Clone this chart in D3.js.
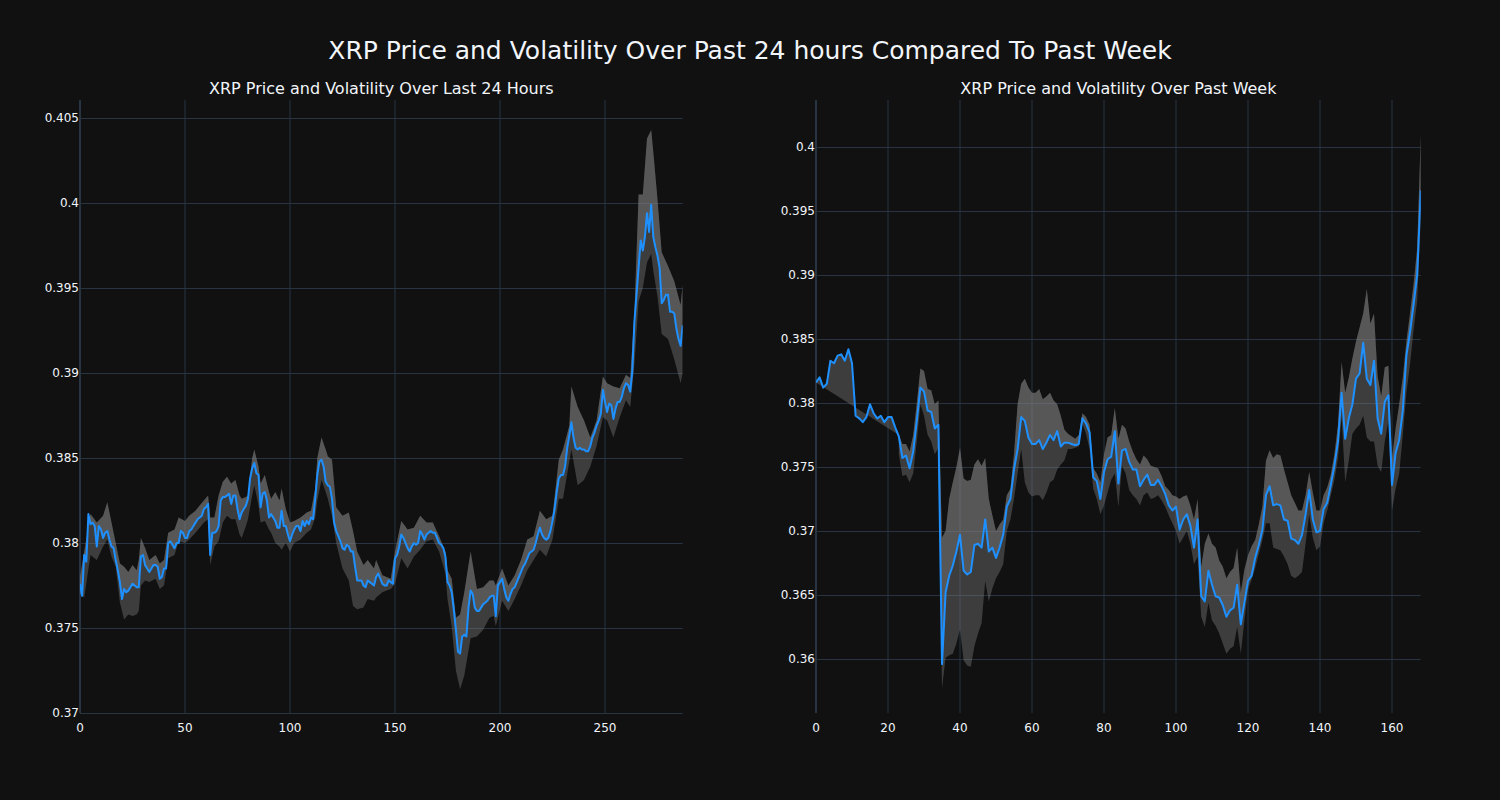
<!DOCTYPE html>
<html>
<head>
<meta charset="utf-8">
<script src="https://cdn.jsdelivr.net/npm/d3@7/dist/d3.min.js"></script>
<style>
  html, body { margin: 0; padding: 0; background: #111111; }
  svg { display: block; }
  text { font-family: "DejaVu Sans", "Open Sans", sans-serif; fill: #f2f5fa; }
</style>
</head>
<body>
<svg id="chart" width="1500" height="800"></svg>
<script>
// ---------- DATA ----------
const mainTitle = "XRP Price and Volatility Over Past 24 hours Compared To Past Week";
const dayTitle = "XRP Price and Volatility Over Last 24 Hours";
const weekTitle = "XRP Price and Volatility Over Past Week";

// 24h price (5-minute steps, index 0..287)
const dayPrice = [
0.3776,0.3769,0.3793,0.3789,0.3817,0.3811,0.3812,0.3810,0.3798,0.3810,
0.3808,0.3803,0.3806,0.3807,0.3802,0.3798,0.3797,0.3790,0.3784,0.3777,
0.3767,0.3773,0.3771,0.3772,0.3774,0.3776,0.3775,0.3774,0.3774,0.3792,
0.3793,0.3787,0.3785,0.3783,0.3785,0.3787,0.3787,0.3786,0.3779,0.3780,
0.3785,0.3785,0.3800,0.3801,0.3799,0.3797,0.3800,0.3800,0.3807,0.3806,
0.3803,0.3803,0.3807,0.3808,0.3810,0.3812,0.3814,0.3815,0.3816,0.3820,
0.3821,0.3823,0.3793,0.3806,0.3806,0.3807,0.3810,0.3825,0.3827,0.3827,
0.3828,0.3829,0.3823,0.3828,0.3828,0.3820,0.3814,0.3818,0.3820,0.3822,
0.3826,0.3838,0.3844,0.3847,0.3841,0.3840,0.3821,0.3829,0.3830,0.3825,
0.3815,0.3817,0.3815,0.3813,0.3809,0.3809,0.3819,0.3810,0.3810,0.3805,
0.3801,0.3805,0.3808,0.3810,0.3810,0.3807,0.3813,0.3810,0.3813,0.3811,
0.3815,0.3814,0.3826,0.3840,0.3848,0.3849,0.3845,0.3836,0.3834,0.3833,
0.3826,0.3812,0.3807,0.3804,0.3801,0.3797,0.3796,0.3799,0.3798,0.3795,
0.3795,0.3786,0.3778,0.3778,0.3778,0.3775,0.3774,0.3778,0.3777,0.3776,
0.3775,0.3780,0.3782,0.3779,0.3776,0.3775,0.3775,0.3778,0.3777,0.3776,
0.3791,0.3793,0.3798,0.3805,0.3803,0.3800,0.3797,0.3795,0.3798,0.3800,
0.3799,0.3800,0.3807,0.3805,0.3802,0.3805,0.3806,0.3807,0.3806,0.3806,
0.3803,0.3800,0.3799,0.3797,0.3792,0.3777,0.3775,0.3771,0.3761,0.3749,
0.3736,0.3735,0.3745,0.3746,0.3745,0.3762,0.3772,0.3770,0.3762,0.3760,
0.3760,0.3762,0.3764,0.3765,0.3766,0.3768,0.3769,0.3769,0.3757,0.3775,
0.3777,0.3779,0.3773,0.3768,0.3766,0.3770,0.3773,0.3774,0.3777,0.3780,
0.3783,0.3786,0.3788,0.3791,0.3794,0.3795,0.3796,0.3800,0.3805,0.3809,
0.3805,0.3803,0.3802,0.3803,0.3807,0.3813,0.3820,0.3830,0.3838,0.3840,
0.3840,0.3845,0.3856,0.3863,0.3871,0.3862,0.3856,0.3855,0.3856,0.3855,
0.3855,0.3854,0.3854,0.3857,0.3862,0.3865,0.3869,0.3872,0.3876,0.3890,
0.3883,0.3877,0.3882,0.3881,0.3873,0.3879,0.3883,0.3883,0.3886,0.3891,
0.3894,0.3893,0.3889,0.3901,0.3930,0.3946,0.3962,0.3978,0.3972,0.3980,
0.3994,0.3983,0.3999,0.3980,0.3974,0.3969,0.3962,0.3941,0.3943,0.3946,
0.3946,0.3936,0.3936,0.3935,0.3926,0.3920,0.3916,0.3928
];

// 24h volatility band (sampled positions)
const dayBandX = [0,2,5,8,11,13,15,17,19,21,23,25,27,28,29,31,33,36,38,40,42,45,47,50,52,55,57,59,61,62,64,66,68,70,72,74,76,77,79,80,82,83,85,86,88,90,91,93,95,96,98,100,102,105,108,110,112,113,115,117,118,120,122,125,128,130,132,135,137,140,141,144,146,148,150,153,156,159,162,165,168,171,174,175,177,179,181,183,186,189,192,195,197,198,201,204,207,210,213,216,219,222,225,228,230,233,234,237,240,243,246,249,251,254,257,260,262,264,266,268,270,272,273,275,277,280,283,286,287];
const dayUpper = [0.3780,0.3795,0.3817,0.3812,0.3816,0.3824,0.3812,0.3800,0.3788,0.3786,0.3783,0.3787,0.3784,0.3790,0.3803,0.3797,0.3790,0.3793,0.3788,0.3790,0.3806,0.3808,0.3815,0.3813,0.3816,0.3819,0.3822,0.3825,0.3828,0.3815,0.3815,0.3828,0.3836,0.3839,0.3835,0.3837,0.3828,0.3826,0.3827,0.3828,0.3850,0.3855,0.3845,0.3835,0.3840,0.3830,0.3826,0.3830,0.3825,0.3832,0.3820,0.3812,0.3813,0.3815,0.3818,0.3819,0.3832,0.3850,0.3862,0.3855,0.3851,0.3849,0.3821,0.3816,0.3818,0.3807,0.3795,0.3787,0.3790,0.3785,0.3790,0.3781,0.3780,0.3779,0.3795,0.3813,0.3808,0.3809,0.3816,0.3812,0.3812,0.3804,0.3795,0.3784,0.3779,0.3756,0.3758,0.3771,0.3795,0.3773,0.3774,0.3778,0.3778,0.3775,0.3785,0.3775,0.3781,0.3790,0.3802,0.3804,0.3819,0.3814,0.3816,0.3849,0.3855,0.3869,0.3892,0.3880,0.3872,0.3862,0.3872,0.3898,0.3894,0.3892,0.3891,0.3899,0.3897,0.3935,0.4005,0.4005,0.4038,0.4043,0.4030,0.4002,0.3971,0.3963,0.3954,0.3940,0.3952];
const dayLower = [0.3770,0.3768,0.3793,0.3790,0.3798,0.3802,0.3792,0.3786,0.3765,0.3755,0.3758,0.3757,0.3758,0.3760,0.3775,0.3778,0.3777,0.3779,0.3773,0.3775,0.3791,0.3793,0.3801,0.3800,0.3802,0.3806,0.3809,0.3812,0.3814,0.3787,0.3798,0.3801,0.3812,0.3816,0.3814,0.3814,0.3805,0.3803,0.3810,0.3814,0.3828,0.3834,0.3822,0.3812,0.3813,0.3808,0.3806,0.3800,0.3798,0.3796,0.3800,0.3795,0.3800,0.3802,0.3806,0.3808,0.3815,0.3825,0.3837,0.3830,0.3826,0.3816,0.3800,0.3785,0.3778,0.3763,0.3761,0.3762,0.3767,0.3766,0.3768,0.3771,0.3772,0.3773,0.3776,0.3791,0.3785,0.3792,0.3796,0.3801,0.3802,0.3795,0.3782,0.3767,0.3751,0.3725,0.3714,0.3722,0.3744,0.3745,0.3749,0.3756,0.3757,0.3751,0.3766,0.3760,0.3767,0.3775,0.3784,0.3790,0.3796,0.3792,0.3802,0.3826,0.3826,0.3848,0.3855,0.3834,0.3837,0.3845,0.3857,0.3874,0.3872,0.3862,0.3874,0.3884,0.3880,0.3905,0.3942,0.3950,0.3965,0.3970,0.3960,0.3945,0.3923,0.3920,0.3908,0.3894,0.3900];

// Week price (hourly, index 0..168)
const weekPrice = [
0.3816,0.3820,0.3812,0.3815,0.3833,0.3831,0.3837,0.3838,0.3833,0.3842,
0.3831,0.3790,0.3788,0.3785,0.3789,0.3799,0.3792,0.3788,0.3790,0.3785,
0.3789,0.3789,0.3781,0.3774,0.3757,0.3759,0.3749,0.3762,0.3786,0.3812,
0.3809,0.3794,0.3793,0.3780,0.3783,0.3596,0.3652,0.3665,0.3673,0.3684,
0.3697,0.3669,0.3666,0.3668,0.3689,0.3690,0.3687,0.3709,0.3684,0.3687,
0.3679,0.3687,0.3697,0.3719,0.3725,0.3748,0.3764,0.3789,0.3786,0.3773,
0.3768,0.3768,0.3771,0.3764,0.3769,0.3775,0.3771,0.3778,0.3766,0.3769,
0.3769,0.3768,0.3767,0.3768,0.3788,0.3784,0.3777,0.3742,0.3739,0.3725,
0.3746,0.3756,0.3758,0.3778,0.3737,0.3763,0.3764,0.3754,0.3748,0.3748,
0.3735,0.3740,0.3744,0.3736,0.3736,0.3740,0.3735,0.3729,0.3720,0.3716,
0.3719,0.3701,0.3709,0.3713,0.3704,0.3687,0.3709,0.3649,0.3645,0.3669,
0.3658,0.3649,0.3648,0.3642,0.3633,0.3638,0.3640,0.3658,0.3627,0.3644,
0.3661,0.3665,0.3679,0.3689,0.3701,0.3728,0.3735,0.3720,0.3721,0.3720,
0.3709,0.3708,0.3694,0.3693,0.3690,0.3697,0.3713,0.3732,0.3709,0.3699,
0.3700,0.3717,0.3722,0.3736,0.3751,0.3770,0.3808,0.3772,0.3788,0.3799,
0.3819,0.3823,0.3847,0.3819,0.3814,0.3833,0.3788,0.3776,0.3801,0.3806,
0.3736,0.3761,0.3771,0.3794,0.3837,0.3855,0.3877,0.3900,0.3966
];

// Week volatility band (starts at index 23)
const weekBandStart = 23;
const weekUpper = [
0.3775,0.3768,0.3768,0.3762,0.3775,0.3800,0.3827,0.3825,0.3811,0.3810,
0.3799,0.3802,0.3695,0.3700,0.3725,0.3738,0.3750,0.3765,0.3741,0.3739,
0.3740,0.3752,0.3756,0.3751,0.3757,0.3725,0.3712,0.3700,0.3705,0.3709,
0.3728,0.3733,0.3760,0.3799,0.3815,0.3819,0.3812,0.3808,0.3808,0.3811,
0.3803,0.3805,0.3808,0.3802,0.3799,0.3790,0.3779,0.3776,0.3774,0.3772,
0.3775,0.3792,0.3789,0.3783,0.3749,0.3745,0.3738,0.3760,0.3773,0.3775,
0.3796,0.3772,0.3783,0.3780,0.3770,0.3762,0.3756,0.3752,0.3759,0.3756,
0.3751,0.3750,0.3749,0.3743,0.3735,0.3732,0.3728,0.3727,0.3725,0.3727,
0.3728,0.3720,0.3709,0.3725,0.3672,0.3690,0.3698,0.3690,0.3687,0.3677,
0.3672,0.3663,0.3668,0.3671,0.3687,0.3652,0.3670,0.3681,0.3688,0.3693,
0.3705,0.3719,0.3755,0.3763,0.3757,0.3760,0.3759,0.3748,0.3738,0.3728,
0.3722,0.3716,0.3716,0.3728,0.3746,0.3730,0.3716,0.3716,0.3728,0.3734,
0.3744,0.3760,0.3783,0.3832,0.3808,0.3820,0.3835,0.3848,0.3859,0.3870,
0.3889,0.3862,0.3870,0.3821,0.3805,0.3828,0.3829,0.3757,0.3780,0.3799,
0.3820,0.3848,0.3870,0.3893,0.3921,0.4011
];
const weekLower = [
0.3760,0.3743,0.3744,0.3738,0.3745,0.3770,0.3799,0.3790,0.3775,0.3770,
0.3760,0.3765,0.3577,0.3601,0.3603,0.3604,0.3612,0.3623,0.3599,0.3595,
0.3594,0.3610,0.3620,0.3628,0.3661,0.3645,0.3655,0.3663,0.3668,0.3674,
0.3700,0.3709,0.3725,0.3745,0.3764,0.3738,0.3730,0.3727,0.3728,0.3728,
0.3724,0.3730,0.3738,0.3740,0.3748,0.3752,0.3755,0.3764,0.3764,0.3765,
0.3766,0.3784,0.3776,0.3764,0.3733,0.3725,0.3713,0.3720,0.3730,0.3740,
0.3745,0.3719,0.3751,0.3745,0.3732,0.3728,0.3725,0.3720,0.3728,0.3730,
0.3725,0.3726,0.3728,0.3724,0.3719,0.3712,0.3706,0.3700,0.3690,0.3695,
0.3700,0.3690,0.3674,0.3680,0.3633,0.3625,0.3644,0.3630,0.3626,0.3620,
0.3612,0.3604,0.3608,0.3610,0.3625,0.3604,0.3630,0.3654,0.3662,0.3671,
0.3682,0.3693,0.3706,0.3706,0.3687,0.3686,0.3685,0.3680,0.3674,0.3665,
0.3663,0.3665,0.3668,0.3690,0.3713,0.3695,0.3685,0.3688,0.3706,0.3716,
0.3728,0.3740,0.3757,0.3789,0.3738,0.3755,0.3776,0.3780,0.3783,0.3790,
0.3773,0.3770,0.3770,0.3751,0.3746,0.3770,0.3786,0.3716,0.3733,0.3745,
0.3775,0.3808,0.3830,0.3857,0.3880,0.3946
];

const dayYTicks = [0.37,0.375,0.38,0.385,0.39,0.395,0.4,0.405];
const dayXTicks = [0,50,100,150,200,250];
const weekYTicks = [0.36,0.365,0.37,0.375,0.38,0.385,0.39,0.395,0.4];
const weekXTicks = [0,20,40,60,80,100,120,140,160];

// ---------- DRAW ----------
const svg = d3.select("#chart");
const GRID = "#283442";
const LINE = "#1e90ff";
const BAND = "rgba(128,128,128,0.4)";

svg.append("text").attr("x", 750).attr("y", 59).attr("text-anchor", "middle")
  .style("font-size", "25px").text(mainTitle);

function panel(cfg) {
  const x = d3.scaleLinear().domain(cfg.xDomain).range([cfg.left, cfg.right]);
  const y = d3.scaleLinear().domain(cfg.yDomain).range([713, 100]);
  const g = svg.append("g");

  g.append("text").attr("x", (cfg.left + cfg.right) / 2).attr("y", 94)
    .attr("text-anchor", "middle").style("font-size", "16px").text(cfg.title);

  // grid
  g.selectAll(".gx").data(cfg.xTicks).enter().append("line")
    .attr("x1", d => x(d)).attr("x2", d => x(d)).attr("y1", 100).attr("y2", 713)
    .attr("stroke", GRID).attr("stroke-width", d => d === 0 ? 2 : 1);
  g.selectAll(".gy").data(cfg.yTicks).enter().append("line")
    .attr("x1", cfg.left).attr("x2", cfg.right).attr("y1", d => Math.round(y(d)) + 0.5).attr("y2", d => Math.round(y(d)) + 0.5)
    .attr("stroke", GRID).attr("stroke-width", 1);

  // tick labels
  g.selectAll(".ty").data(cfg.yTicks).enter().append("text")
    .attr("x", cfg.left - 1).attr("y", d => y(d) + 4).attr("text-anchor", "end")
    .style("font-size", "12px").text(d => String(+d.toFixed(3)));
  g.selectAll(".tx").data(cfg.xTicks).enter().append("text")
    .attr("x", d => x(d)).attr("y", 732).attr("text-anchor", "middle")
    .style("font-size", "12px").text(d => d);

  const clipId = "clip" + cfg.id;
  svg.append("clipPath").attr("id", clipId).append("rect")
    .attr("x", cfg.left).attr("y", 100).attr("width", cfg.right - cfg.left).attr("height", 613);
  const plot = g.append("g").attr("clip-path", `url(#${clipId})`);

  const pricePts = cfg.price.map((v, i) => [i, v]);
  const upperPts = cfg.bandX.map((t, i) => [t, cfg.upper[i]]);
  const lowerPts = cfg.bandX.map((t, i) => [t, cfg.lower[i]]);
  const line = d3.line().x(d => x(d[0])).y(d => y(d[1]));

  // band: lower -> upper
  plot.append("path")
    .attr("d", line(lowerPts.concat(upperPts.slice().reverse())) + "Z")
    .attr("fill", BAND).attr("stroke", "none");
  // band: price -> upper
  plot.append("path")
    .attr("d", line(upperPts.concat(pricePts.slice().reverse())) + "Z")
    .attr("fill", BAND).attr("stroke", "none");

  plot.append("path").attr("d", line(pricePts))
    .attr("fill", "none").attr("stroke", LINE).attr("stroke-width", 2)
    .attr("stroke-linejoin", "round");
}

panel({
  id: "day", title: dayTitle, left: 80, right: 682.7,
  xDomain: [0, 287], yDomain: [0.37, 0.40606],
  xTicks: dayXTicks, yTicks: dayYTicks,
  price: dayPrice, bandX: dayBandX, upper: dayUpper, lower: dayLower
});

panel({
  id: "week", title: weekTitle, left: 816, right: 1420.8,
  xDomain: [0, 168], yDomain: [0.35578, 0.40367],
  xTicks: weekXTicks, yTicks: weekYTicks,
  price: weekPrice, bandX: weekUpper.map((_, i) => weekBandStart + i),
  upper: weekUpper, lower: weekLower
});
</script>
</body>
</html>
